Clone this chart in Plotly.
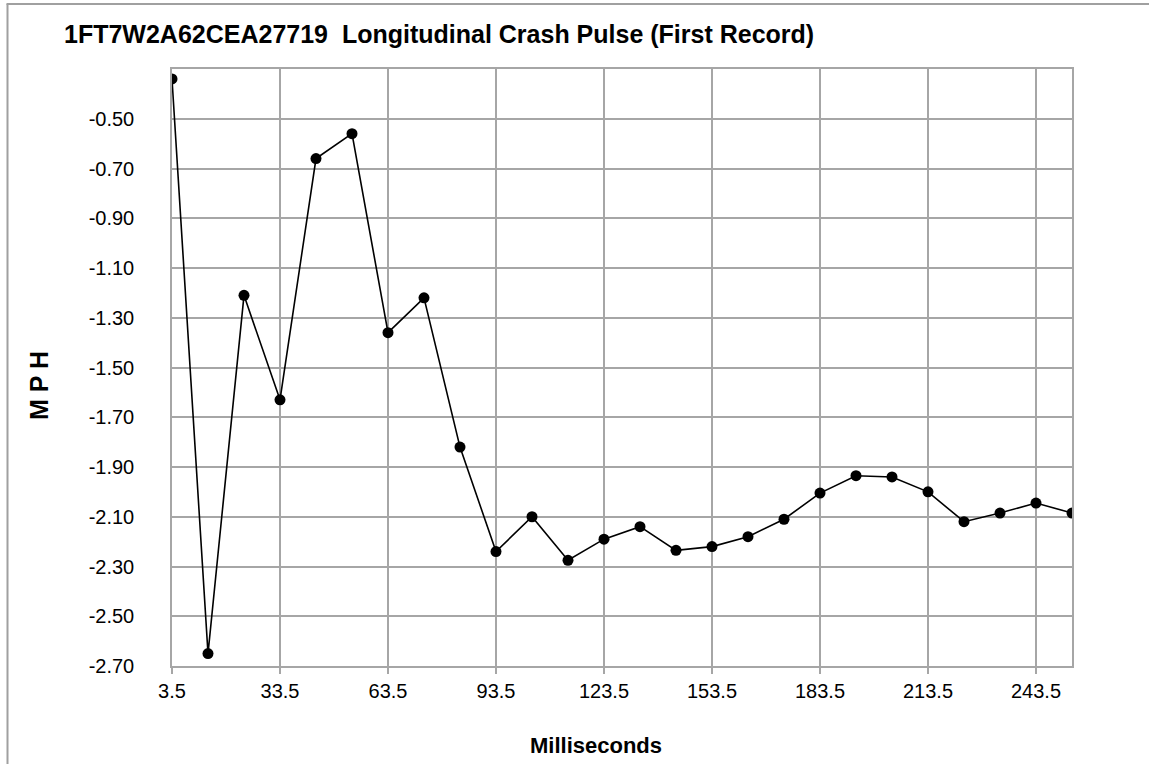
import plotly.graph_objects as go

# Data
ms = [3.5, 13.5, 23.5, 33.5, 43.5, 53.5, 63.5, 73.5, 83.5, 93.5, 103.5, 113.5, 123.5,
      133.5, 143.5, 153.5, 163.5, 173.5, 183.5, 193.5, 203.5, 213.5, 223.5, 233.5,
      243.5, 253.5]
mph = [-0.34, -2.65, -1.21, -1.63, -0.66, -0.56, -1.36, -1.22, -1.82, -2.24, -2.10,
       -2.275, -2.19, -2.14, -2.235, -2.22, -2.18, -2.11, -2.005, -1.935, -1.94, -2.00,
       -2.12, -2.085, -2.045, -2.085]
x_ticks = [3.5, 33.5, 63.5, 93.5, 123.5, 153.5, 183.5, 213.5, 243.5]
y_ticks = [-2.70, -2.50, -2.30, -2.10, -1.90, -1.70, -1.50, -1.30, -1.10, -0.90, -0.70, -0.50]

title_text = "1FT7W2A62CEA27719 \u00a0Longitudinal Crash Pulse (First Record)"
x_title = "Milliseconds"
y_title = "M P H"

W, H = 1149, 764
L, R, T, B = 172, 1072, 69, 666  # plot area pixel bounds
GRID = "#a6a6a6"
FONT = "Liberation Sans, Arial, sans-serif"

def px_x(px):
    return (px - L) / (R - L)

def px_y(py):
    return (B - py) / (B - T)

fig = go.Figure()
fig.add_trace(go.Scatter(
    x=ms, y=mph, mode="lines+markers",
    line=dict(color="black", width=1.6),
    marker=dict(color="black", size=11, symbol="circle"),
    showlegend=False, hoverinfo="x+y",
))

fig.update_xaxes(
    range=[3.5, 253.5], tickmode="array", tickvals=x_ticks,
    ticktext=[f"{v:.1f}" for v in x_ticks],
    showgrid=True, gridcolor=GRID, gridwidth=1.5,
    showline=True, linecolor=GRID, linewidth=1.5, mirror=True,
    ticks="outside", ticklen=6, tickcolor=GRID, tickwidth=1.5,
    tickfont=dict(family=FONT, size=20, color="black"),
    ticklabelstandoff=0, zeroline=False,
)
fig.update_yaxes(
    range=[-2.70, -0.30], tickmode="array", tickvals=y_ticks,
    ticktext=[f"{v:.2f}" for v in y_ticks],
    showgrid=True, gridcolor=GRID, gridwidth=1.5,
    showline=True, linecolor=GRID, linewidth=1.5, mirror=True,
    ticks="", tickfont=dict(family=FONT, size=20, color="black"),
    ticklabelstandoff=32, zeroline=False,
)

annotations = [
    dict(text=f"<b>{title_text}</b>", x=px_x(62), y=px_y(34), xref="paper", yref="paper",
         xanchor="left", yanchor="middle", showarrow=False,
         font=dict(family=FONT, size=25, color="black")),
    dict(text=f"<b>{x_title}</b>", x=px_x(596), y=px_y(745), xref="paper", yref="paper",
         xanchor="center", yanchor="middle", showarrow=False,
         font=dict(family=FONT, size=22, color="black")),
    dict(text=f"<b>{y_title}</b>", x=px_x(39), y=px_y(386), xref="paper", yref="paper",
         xanchor="center", yanchor="middle", showarrow=False, textangle=-90,
         font=dict(family=FONT, size=25, color="black")),
]

shapes = [
    dict(type="line", xref="paper", yref="paper", x0=px_x(7.5), x1=px_x(7.5),
         y0=px_y(4), y1=px_y(800), line=dict(color="#a0a0a0", width=2)),
    dict(type="line", xref="paper", yref="paper", x0=px_x(6.5), x1=px_x(1200),
         y0=px_y(4), y1=px_y(4), line=dict(color="#a0a0a0", width=2)),
]

fig.update_layout(
    width=W, height=H, autosize=False,
    margin=dict(l=L, r=W - R, t=T, b=H - B, pad=0),
    paper_bgcolor="white", plot_bgcolor="white",
    annotations=annotations, shapes=shapes,
    font=dict(family=FONT, color="black"),
)

fig.write_html("out.html", config={"displayModeBar": False},
               post_script="document.body.style.margin='0';document.body.style.overflow='hidden';")
